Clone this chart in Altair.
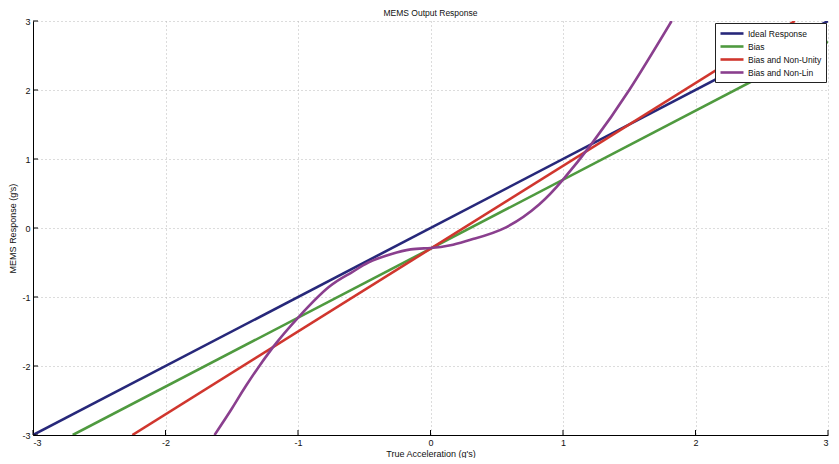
import altair as alt
import pandas as pd

# ---- data ----
series_names = ["Ideal Response", "Bias", "Bias and Non-Unity", "Bias and Non-Lin"]
colors = ["#27287a", "#4f9a3f", "#d0362e", "#8a3f8e"]

ideal_x = [-3.0, 3.0]
ideal_y = [-3.0, 3.0]

bias_x = [-2.7, 3.0]
bias_y = [-3.0, 2.7]

nonunity_x = [-2.25, 2.75]
nonunity_y = [-3.0, 3.0]

nonlin_x = [-1.63, -1.5, -1.39, -1.19, -0.99, -0.77, -0.6, -0.47, -0.3, -0.15,
            0.0, 0.15, 0.32, 0.57, 0.82, 1.0, 1.22, 1.5, 1.82]
nonlin_y = [-3.0, -2.62, -2.28, -1.73, -1.28, -0.86, -0.65, -0.5, -0.38, -0.31,
            -0.29, -0.25, -0.16, 0.01, 0.34, 0.7, 1.23, 2.0, 3.0]

tick_values = [-3, -2, -1, 0, 1, 2, 3]

rows = []
for name, xs, ys in zip(series_names,
                        [ideal_x, bias_x, nonunity_x, nonlin_x],
                        [ideal_y, bias_y, nonunity_y, nonlin_y]):
    for i, (a, b) in enumerate(zip(xs, ys)):
        rows.append({"series": name, "x": a, "y": b, "order": i})
df = pd.DataFrame(rows)
ticks_df = pd.DataFrame({"t": tick_values})

W, H = 795, 414
FONT = "Liberation Sans"

xscale = alt.Scale(domain=[-3, 3], nice=False, zero=False)
yscale = alt.Scale(domain=[-3, 3], nice=False, zero=False)

lines = alt.Chart(df).mark_line(strokeWidth=2.6, clip=True, interpolate="natural").encode(
    x=alt.X("x:Q", scale=xscale,
            axis=alt.Axis(values=tick_values, title="True Acceleration (g's)",
                          labelExpr="'' + datum.value")),
    y=alt.Y("y:Q", scale=yscale,
            axis=alt.Axis(values=tick_values, title="MEMS Response (g's)",
                          labelExpr="'' + datum.value")),
    color=alt.Color("series:N",
                    scale=alt.Scale(domain=series_names, range=colors),
                    sort=series_names,
                    legend=alt.Legend(title=None, orient="top-right", offset=2,
                                      symbolType="M-1,0H3.6", symbolSize=100,
                                      symbolStrokeWidth=2.6, labelFontSize=8.5,
                                      labelFont=FONT, labelColor="#111",
                                      rowPadding=1,
                                      padding=4, strokeColor="#222",
                                      fillColor="white", labelLimit=200,
                                      labelOffset=16)),
    detail="series:N",
    order="order:Q",
)

xticks = alt.Chart(ticks_df).mark_rule(color="black", strokeWidth=1).encode(
    x=alt.X("t:Q", scale=xscale),
    y=alt.value(H),
    y2=alt.value(H - 5),
)
yticks = alt.Chart(ticks_df).mark_rule(color="black", strokeWidth=1).encode(
    y=alt.Y("t:Q", scale=yscale),
    x=alt.value(0),
    x2=alt.value(5),
)

chart = alt.layer(lines, xticks, yticks).properties(
    width=W, height=H,
    padding={"left": 0, "top": 0, "right": 0, "bottom": 0},
    title=alt.TitleParams("MEMS Output Response", fontSize=8.5, font=FONT,
                          fontWeight="normal", offset=0, anchor="middle", color="#111"),
).configure_view(stroke=None).configure_axis(
    grid=True, gridColor="#b8b8b8", gridDash=[1, 3], gridWidth=1,
    domainColor="black", domainWidth=1, ticks=False,
    labelFont=FONT, labelFontSize=9, labelColor="#111",
    titleFont=FONT, titleFontSize=9, titleFontWeight="normal", titleColor="#111",
    labelPadding=3,
).configure_axisY(titlePadding=4).configure_axisX(titlePadding=2)

chart.save("out.html", embed_options={"renderer": "svg", "actions": False})
